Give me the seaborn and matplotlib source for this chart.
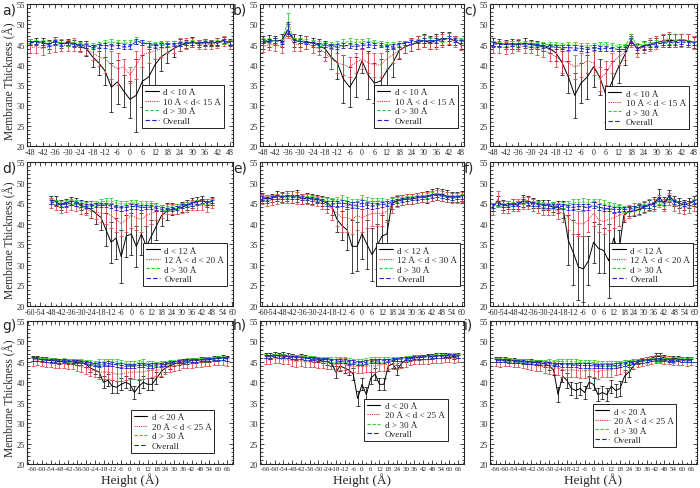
import matplotlib
matplotlib.use("Agg")
import matplotlib.pyplot as plt
import seaborn as sns
from matplotlib.ticker import MultipleLocator
from matplotlib.lines import Line2D

# ---------------- data ----------------
x_48 = list(range(-48, 49, 3))
x_60 = list(range(-60, 61, 3))
x_66 = list(range(-66, 67, 3))

err_green_33 = [0.6,0.5,0.6,0.5,0.6,0.5,0.6,0.5,0.6,0.6,0.6, 0.7,0.7,0.8,0.7,0.8,0.7,0.8,0.7,0.7,0.6,0.6, 0.6,0.5,0.6,0.5,0.6,0.5,0.6,0.5,0.6,0.6,0.5]
err_blue_33 = [0.5,0.4,0.5,0.4,0.5,0.4,0.5,0.4,0.4,0.5,0.5, 0.5,0.6,0.6,0.6,0.6,0.6,0.6,0.6,0.5,0.5,0.5, 0.5,0.4,0.5,0.4,0.5,0.4,0.5,0.4,0.5,0.5,0.4]
err_green_41 = [0.6,0.6,0.5,0.6,0.5,0.6,0.6,0.5,0.6,0.5, 0.6,0.6,0.7,0.7,0.8,0.8,0.9,0.9,0.9,0.9, 0.9,0.9,0.9,0.8,0.8,0.8,0.7,0.6,0.6,0.6, 0.5,0.6,0.5,0.6,0.6,0.5,0.6,0.5,0.6,0.5,0.6]
err_blue_41 = [0.5,0.5,0.4,0.5,0.4,0.5,0.5,0.4,0.5,0.4, 0.5,0.5,0.5,0.6,0.6,0.6,0.7,0.7,0.7,0.7, 0.7,0.7,0.7,0.6,0.6,0.6,0.5,0.5,0.5,0.5, 0.4,0.5,0.4,0.5,0.5,0.4,0.5,0.4,0.5,0.4,0.5]
err_green_45 = [0.5,0.5,0.4,0.5,0.5,0.4,0.5,0.5,0.4,0.5,0.5,0.4,0.5,0.5,0.5, 0.6,0.6,0.6,0.6,0.6,0.6,0.6,0.6,0.6,0.6,0.6,0.6,0.6,0.5,0.5, 0.5,0.5,0.4,0.5,0.5,0.4,0.5,0.5,0.4,0.5,0.5,0.4,0.5,0.5,0.5]
err_blue_45 = [0.4,0.4,0.3,0.4,0.4,0.3,0.4,0.4,0.3,0.4,0.4,0.3,0.4,0.4,0.4, 0.5,0.5,0.5,0.5,0.5,0.5,0.5,0.5,0.5,0.5,0.5,0.5,0.5,0.4,0.4, 0.4,0.4,0.3,0.4,0.4,0.3,0.4,0.4,0.3,0.4,0.4,0.3,0.4,0.4,0.4]

# panel a
a_black = [45.6,45.8,45.5,45.0,45.9,45.2,45.5,45.3,44.6,44.0,42.0, 40.5,38.5,34.5,35.8,33.5,31.5,32.5,36.0,37.0,40.0,42.0, 43.0,44.0,44.8,45.2,45.6,45.3,45.5,45.4,45.6,46.0,45.5]
a_black_err = [0.8,0.8,1.0,1.2,0.9,1.0,0.8,0.9,1.2,1.8,2.5, 3.0,3.5,6.0,5.5,4.0,4.5,9.0,6.5,7.0,5.0,3.5, 2.5,2.0,1.5,1.0,1.2,0.8,0.8,0.8,0.9,0.9,0.8]
a_red = [44.2,44.5,44.0,44.5,45.0,44.8,44.8,45.0,44.3,44.0,43.0, 42.0,41.5,40.0,39.0,39.5,37.5,40.0,42.5,43.0,43.5,44.0, 44.3,44.5,45.0,45.3,45.5,45.0,45.2,45.0,45.3,45.8,45.0]
a_red_err = [1.2,1.5,1.5,1.5,1.8,1.5,1.3,1.5,1.2,1.5,1.8, 2.2,3.5,3.5,4.0,2.0,2.0,3.5,3.0,2.5,2.0,2.0, 1.5,1.5,1.5,1.3,1.2,1.2,1.2,1.2,1.2,1.2,1.2]
a_green = [45.8,45.6,45.5,45.3,45.7,45.2,45.3,45.2,45.0,44.8,44.8, 45.0,45.5,45.6,45.5,45.3,45.5,46.0,45.5,45.3,45.0,45.0, 45.2,45.3,45.3,45.4,45.5,45.4,45.6,45.5,45.6,45.8,45.6]
a_blue = [45.5,45.5,45.3,45.1,45.6,45.1,45.3,45.1,44.8,44.6,44.5, 44.7,44.8,44.6,44.8,44.5,44.5,45.8,45.5,45.0,44.7,44.8, 45.0,45.1,45.2,45.3,45.4,45.3,45.5,45.4,45.5,45.8,45.4]

# panel b
b_black = [45.5,45.8,46.0,46.0,48.5,46.0,45.8,45.5,45.5,44.8,44.0, 42.0,40.5,36.5,34.5,37.0,41.0,37.5,35.5,36.0,38.5,40.5, 43.5,44.5,45.0,45.5,46.0,45.5,46.0,46.5,46.5,46.0,45.0]
b_black_err = [1.5,1.5,1.2,1.5,1.5,1.5,1.5,1.5,1.2,1.5,2.0, 3.0,4.0,6.0,5.0,5.0,3.0,6.0,5.0,5.5,5.0,3.5, 2.0,1.5,1.5,1.5,1.5,1.5,1.5,1.5,1.5,1.2,1.2]
b_red = [44.5,45.0,45.0,44.5,48.0,45.0,45.0,45.5,44.5,44.0,43.0, 41.5,40.5,40.0,39.5,40.5,41.5,40.5,40.0,40.0,41.5,42.5, 43.5,44.5,45.0,45.5,45.8,45.3,45.5,46.0,46.5,45.8,45.0]
b_red_err = [1.3,1.3,1.5,1.5,1.5,1.5,1.5,1.5,1.5,1.5,2.0, 2.5,2.5,2.5,2.5,2.5,2.5,2.5,3.0,3.0,2.5,2.0, 1.8,1.5,1.5,1.5,1.5,1.5,1.5,1.5,1.3,1.3,1.3]
b_green = [46.0,46.0,46.0,45.8,50.5,46.2,46.0,45.8,45.5,45.2,45.0, 45.0,45.2,45.5,45.8,45.5,45.7,45.8,45.5,45.3,45.0,45.0, 45.3,45.5,45.7,45.8,46.0,46.0,46.0,46.2,46.5,46.2,46.0]
b_green_err = [0.6,0.5,0.6,0.5,2.2,0.5,0.6,0.5,0.6,0.6,0.6, 0.7,0.7,0.8,0.7,0.8,0.7,0.8,0.7,0.7,0.6,0.6, 0.6,0.5,0.6,0.5,0.6,0.5,0.6,0.5,0.6,0.6,0.5]
b_blue = [45.8,46.0,46.0,45.5,49.0,46.0,45.8,45.6,45.3,45.0,44.8, 44.6,44.6,44.8,44.7,44.5,44.8,45.0,44.8,44.8,44.5,44.6, 45.0,45.3,45.6,45.8,46.0,45.8,46.0,46.2,46.5,46.2,45.8]
b_blue_err = [0.5,0.4,0.5,0.4,1.5,0.4,0.5,0.4,0.4,0.5,0.5, 0.5,0.6,0.6,0.6,0.6,0.6,0.6,0.6,0.5,0.5,0.5, 0.5,0.4,0.5,0.4,0.5,0.4,0.5,0.4,0.5,0.5,0.4]

# panel c
c_black = [45.5,45.3,45.0,45.2,45.0,45.3,45.0,44.8,44.5,44.0,43.0, 40.5,37.0,32.5,35.5,37.0,39.5,37.0,32.5,36.0,39.5,42.5, 46.0,44.0,44.8,45.0,45.5,45.8,46.0,46.0,46.2,46.0,45.5]
c_black_err = [1.0,1.0,1.2,1.2,1.2,1.2,1.2,1.0,1.0,1.2,2.0, 3.0,4.0,5.5,5.0,5.5,5.0,4.5,6.5,5.0,4.0,2.5, 1.0,1.2,1.2,1.2,1.2,1.5,1.5,1.5,1.5,1.5,1.3]
c_red = [44.5,44.5,44.2,44.5,44.8,44.5,44.3,44.0,43.5,43.0,42.0, 41.0,40.5,39.5,40.0,41.0,40.5,36.5,38.0,40.5,42.0,43.0, 46.0,43.5,44.5,45.0,45.5,46.0,46.5,46.0,46.0,46.0,45.5]
c_red_err = [1.5,1.5,1.5,1.5,1.5,1.5,1.5,1.5,1.5,2.0,2.5, 3.0,3.0,3.0,3.0,3.0,3.0,3.0,3.0,2.5,2.0,1.8, 1.5,1.5,1.5,1.5,1.5,1.5,1.5,1.5,1.5,1.5,1.5]
c_green = [45.3,45.2,45.2,45.3,45.3,45.5,45.3,45.2,45.0,45.0,45.0, 44.8,45.0,44.8,44.8,44.6,44.8,44.8,45.0,44.8,44.5,44.5, 47.0,44.8,45.0,45.2,45.5,45.5,45.8,45.6,45.7,45.6,45.5]
c_blue = [45.2,45.0,45.0,45.1,45.0,45.1,45.0,44.8,44.6,44.5,44.4, 44.3,44.2,44.2,44.0,43.8,44.2,44.0,44.0,44.0,43.8,43.8, 46.0,44.0,44.5,44.8,45.2,45.3,45.5,45.4,45.6,45.5,45.3]

# panel d
d_black = [45.8,45.5,44.5,45.0,45.5,45.3,44.5,44.0,43.5,42.5,41.5, 38.5,35.5,36.5,32.0,37.0,37.5,34.5,37.5,34.5,37.0,39.5, 42.0,43.0,43.5,43.5,44.0,44.5,45.0,45.5,45.8,45.0,45.5]
d_black_err = [1.0,1.2,1.2,1.0,1.0,1.0,1.2,1.5,2.0,2.5,3.0, 4.0,5.0,5.0,6.5,5.0,5.0,5.0,5.0,5.0,4.0,3.5, 2.5,2.0,1.5,1.2,1.2,1.2,1.2,1.0,1.0,1.0,1.0]
d_red = [45.0,44.5,43.8,44.0,44.5,44.3,43.5,43.5,43.0,43.0,42.5, 42.5,42.0,41.0,40.0,41.0,42.0,41.5,41.0,42.0,42.5,43.0, 43.0,43.5,43.5,43.5,43.8,44.0,44.5,44.5,44.5,44.0,45.0]
d_red_err = [1.2,1.2,1.2,1.2,1.2,1.2,1.2,1.3,1.5,1.8,2.0, 2.5,3.0,3.0,3.0,3.0,3.0,3.0,3.0,2.5,2.5,2.0, 1.5,1.2,1.2,1.2,1.2,1.2,1.2,1.2,1.2,1.2,1.2]
d_green = [45.5,45.3,45.0,45.3,45.5,45.3,45.0,44.8,44.8,45.0,45.3, 45.5,45.5,45.0,44.8,44.8,45.0,45.0,44.8,44.8,44.8,44.5, 44.0,43.8,44.0,44.2,44.5,44.8,45.0,45.3,45.5,45.3,45.5]
d_blue = [45.3,45.0,44.6,44.8,45.0,44.8,44.5,44.3,44.3,44.5,44.5, 44.5,44.3,44.0,43.8,44.0,44.2,44.2,44.0,44.0,44.0,43.8, 43.5,43.5,43.6,43.8,44.2,44.5,44.8,45.2,45.5,45.0,45.4]

# panel e
e_black = [46.5,46.0,46.3,46.8,46.5,46.8,46.5,46.8,46.0,46.3, 46.0,46.0,45.5,45.0,44.0,41.0,39.5,38.5,34.5,34.5, 37.5,35.0,32.5,34.5,37.0,37.5,45.0,45.5,45.8,46.0, 46.0,46.3,46.5,46.5,47.0,47.3,47.0,46.8,46.5,46.5,46.8]
e_black_err = [1.0,1.0,1.0,1.2,1.2,1.2,1.5,1.5,1.2,1.2, 1.2,1.0,1.2,1.5,2.0,3.0,3.5,5.0,6.5,6.0, 6.0,6.0,6.5,5.5,5.0,3.5,1.5,1.2,1.2,1.2, 1.2,1.2,1.2,1.5,1.5,1.5,1.5,1.5,1.2,1.2,1.2]
e_red = [46.0,45.5,45.8,46.0,46.3,46.5,46.5,46.3,46.0,46.0, 45.8,45.5,45.0,44.5,43.5,42.5,41.5,41.5,41.0,42.0, 41.5,42.0,42.5,42.5,42.5,43.0,44.5,45.5,45.8,46.0, 46.0,46.3,46.5,46.5,46.8,47.0,46.8,46.5,46.3,46.3,46.5]
e_red_err = [1.2,1.2,1.2,1.2,1.2,1.5,1.5,1.5,1.2,1.2, 1.2,1.2,1.5,2.0,2.5,3.0,3.5,3.5,3.5,3.5, 3.5,3.0,3.0,3.0,3.0,2.5,2.0,1.5,1.2,1.2, 1.2,1.2,1.2,1.2,1.2,1.2,1.2,1.2,1.2,1.2,1.2]
e_green = [46.3,46.3,46.5,46.5,46.5,46.8,46.5,46.6,46.3,46.3, 46.2,46.0,45.8,45.5,45.5,45.8,46.0,45.5,45.0,45.2, 46.0,45.5,45.3,45.5,45.5,45.3,45.5,45.8,46.0,46.2, 46.3,46.5,46.5,46.8,47.0,47.0,46.8,46.5,46.3,46.5,46.6]
e_blue = [46.2,46.0,46.3,46.5,46.4,46.6,46.4,46.5,46.2,46.2, 46.0,45.8,45.5,45.0,44.8,45.0,45.0,44.8,44.5,44.5, 45.0,44.5,44.3,44.5,44.7,44.8,45.2,45.5,45.8,46.0, 46.1,46.3,46.4,46.6,46.8,46.9,46.7,46.4,46.2,46.4,46.5]

# panel f
f_black = [44.0,45.5,44.5,44.5,44.8,44.5,45.5,45.5,45.0,44.8, 44.5,44.5,44.0,44.0,43.5,36.0,33.0,29.5,29.0,31.0, 35.5,34.0,33.5,31.0,36.5,33.0,42.0,43.0,43.0,43.5, 44.0,44.5,45.0,46.5,45.0,46.8,45.5,45.0,44.5,45.0,45.5]
f_black_err = [1.0,1.2,1.2,1.0,1.2,1.0,1.5,1.2,1.2,1.0, 1.2,1.2,1.2,1.5,2.0,6.0,8.0,8.0,8.0,6.0, 5.0,6.0,5.5,9.0,6.0,5.5,1.5,1.2,1.2,1.2, 1.2,1.2,1.5,2.0,1.5,1.5,1.2,1.2,1.2,1.2,1.2]
f_red = [43.5,46.0,44.0,44.0,44.5,44.5,45.0,45.0,44.5,44.0, 43.5,43.5,43.5,43.0,42.5,41.5,40.5,40.0,40.0,41.0, 42.5,41.0,40.5,41.0,41.5,42.0,42.5,43.0,43.5,43.5, 44.0,44.5,44.5,45.5,44.5,46.0,44.5,44.0,43.8,44.0,44.5]
f_red_err = [1.5,2.0,1.5,1.5,1.5,1.5,1.5,1.5,1.5,1.5, 1.5,1.5,1.5,1.8,2.0,3.0,3.0,3.0,3.0,3.0, 3.0,3.0,3.0,2.5,2.5,2.5,1.5,1.5,1.5,1.5, 1.5,1.5,1.5,1.5,1.5,1.5,1.5,1.5,1.5,1.5,1.5]
f_green = [44.5,45.0,44.5,44.8,44.8,45.0,45.5,45.0,45.0,44.8, 44.6,44.5,44.5,44.3,44.5,44.8,45.0,45.2,45.3,45.0, 45.2,45.0,44.8,44.5,44.3,44.0,43.5,43.5,43.8,44.0, 44.3,44.5,44.8,45.5,45.0,46.0,45.2,45.0,44.8,45.0,45.3]
f_blue = [44.3,45.0,44.5,44.6,44.7,44.8,45.5,45.0,44.8,44.6, 44.4,44.3,44.3,44.2,44.2,44.0,44.0,44.2,44.0,44.0, 44.5,44.0,43.8,43.6,43.5,43.5,43.5,43.5,43.8,44.0, 44.2,44.4,44.8,46.0,45.0,46.5,45.2,45.0,44.7,45.0,45.3]

# panel g
g_black = [45.8,45.8,45.5,45.5,45.3,45.3,45.0,45.2,45.0,45.0,44.8,44.8,44.5,43.5,43.0, 42.5,40.0,40.5,39.0,38.8,39.5,40.0,39.5,37.5,39.0,40.0,39.5,39.5,41.0,42.5, 43.5,44.0,44.5,44.8,45.0,45.0,45.3,45.3,45.5,45.5,45.5,45.8,45.8,46.0,45.8]
g_black_err = [0.6,0.6,0.6,0.6,0.6,0.6,0.6,0.6,0.6,0.6,0.6,0.6,0.8,1.0,1.0, 1.2,1.5,1.5,1.5,1.5,1.5,1.5,1.5,1.5,1.5,1.5,1.5,1.5,1.5,1.2, 1.0,0.8,0.6,0.6,0.6,0.6,0.6,0.6,0.6,0.6,0.6,0.6,0.6,0.6,0.6]
g_red = [45.0,45.3,45.0,44.8,44.8,44.5,44.5,44.5,44.3,44.3,44.0,43.8,43.5,43.0,42.8, 42.5,42.5,42.5,42.3,42.0,42.0,42.3,42.5,42.5,42.5,42.5,42.8,43.0,43.0,43.0, 43.5,43.8,44.0,44.3,44.5,44.5,44.5,44.8,44.8,45.0,45.0,45.2,45.2,45.3,45.0]
g_red_err = [1.0,1.0,1.0,1.0,1.0,1.0,1.0,1.0,1.0,1.0,1.2,1.2,1.5,1.5,1.5, 1.8,1.8,1.8,1.8,1.8,1.8,1.8,1.8,1.8,1.8,1.8,1.8,1.8,1.5,1.5, 1.5,1.2,1.2,1.2,1.0,1.0,1.0,1.0,1.0,1.0,1.0,1.0,1.0,1.0,1.0]
g_green = [45.8,45.8,45.6,45.5,45.5,45.5,45.3,45.5,45.3,45.3,45.2,45.3,45.0,45.0,44.8, 45.0,45.0,45.2,45.0,45.0,44.8,44.5,44.5,44.5,44.8,45.0,44.5,44.5,44.5,44.8, 44.8,45.0,45.0,45.2,45.3,45.5,45.5,45.5,45.6,45.6,45.8,45.8,46.0,46.0,45.8]
g_blue = [45.7,45.7,45.5,45.4,45.4,45.3,45.2,45.3,45.1,45.1,45.0,45.0,44.8,44.6,44.4, 44.5,44.5,44.6,44.4,44.3,44.1,44.0,44.0,44.0,44.2,44.3,44.0,44.1,44.2,44.4, 44.5,44.7,44.9,45.1,45.2,45.3,45.4,45.4,45.5,45.5,45.6,45.7,45.9,45.9,45.7]

# panel h
h_black = [46.5,46.5,46.8,46.5,46.8,46.5,46.3,46.0,46.3,46.0,45.8,45.5,45.5,45.2,45.0, 44.8,42.5,44.0,43.5,43.0,42.0,36.0,39.5,37.0,41.0,42.0,39.5,39.5,44.0,44.5, 43.0,44.5,45.5,45.8,46.0,46.0,46.2,46.3,46.3,46.5,46.5,46.5,46.5,46.3,46.5]
h_black_err = [0.6,0.6,0.6,0.6,0.6,0.6,0.6,0.6,0.6,0.6,0.6,0.6,0.6,0.6,0.8, 0.8,1.5,1.2,1.2,1.2,1.5,1.8,1.5,1.8,1.5,1.5,1.5,1.5,1.2,1.0, 1.2,0.8,0.6,0.6,0.6,0.6,0.6,0.6,0.6,0.6,0.6,0.6,0.6,0.6,0.6]
h_red = [45.5,45.5,45.8,45.8,45.5,45.5,45.3,45.0,45.3,45.0,45.0,45.0,44.8,44.8,44.5, 44.5,44.3,44.5,44.5,44.0,44.0,43.8,43.8,44.0,44.0,44.0,44.3,44.3,44.5,44.5, 44.5,44.8,45.0,45.3,45.5,45.5,45.5,45.5,45.8,45.8,45.8,46.0,46.0,45.8,46.0]
h_red_err = [1.0,1.0,1.0,1.0,1.0,1.0,1.2,1.2,1.2,1.2,1.2,1.2,1.2,1.2,1.2, 1.2,1.5,1.5,1.5,1.5,1.5,1.5,1.5,1.5,1.5,1.5,1.5,1.5,1.2,1.2, 1.2,1.2,1.2,1.0,1.0,1.0,1.0,1.0,1.0,1.0,1.0,1.0,1.0,1.0,1.0]
h_green = [46.5,46.3,46.5,46.5,46.5,46.3,46.2,46.2,46.2,46.0,46.0,46.0,45.8,45.8,45.8, 45.6,45.6,45.5,45.5,45.3,45.2,45.0,45.0,45.3,45.5,45.5,45.6,45.6,45.6,45.7, 45.8,45.8,46.0,46.0,46.2,46.2,46.3,46.3,46.3,46.5,46.5,46.5,46.6,46.6,46.5]
h_blue = [46.3,46.2,46.4,46.4,46.4,46.2,46.1,46.0,46.0,45.9,45.8,45.8,45.6,45.6,45.5, 45.3,45.2,45.2,45.2,45.0,44.9,44.7,44.8,44.9,45.1,45.2,45.2,45.3,45.4,45.5, 45.6,45.7,45.8,45.9,46.0,46.1,46.2,46.2,46.2,46.3,46.4,46.4,46.5,46.5,46.4]

# panel i
i_black = [45.5,45.5,45.5,45.3,45.3,45.2,45.0,45.0,45.0,44.8,44.8,44.5,44.0,43.0,37.0, 41.5,40.5,38.5,38.0,38.5,37.5,40.0,39.5,37.0,37.5,37.0,39.0,38.0,38.5,41.5, 42.5,44.0,45.0,45.3,45.5,45.8,46.3,46.3,46.0,45.8,45.8,45.8,45.5,45.5,45.5]
i_black_err = [0.6,0.6,0.6,0.6,0.6,0.6,0.6,0.6,0.6,0.6,0.6,0.8,1.0,1.2,1.8, 1.5,1.8,1.5,1.8,1.5,1.5,1.5,1.5,1.5,1.5,1.5,1.5,1.5,1.8,1.5, 1.2,0.8,0.6,0.6,0.6,0.6,0.8,0.8,0.6,0.6,0.6,0.6,0.6,0.6,0.6]
i_red = [45.0,44.8,45.0,45.0,44.8,44.8,44.5,44.5,44.3,44.0,44.0,43.8,43.5,43.5,43.5, 43.0,43.0,43.0,43.0,42.8,42.8,43.0,43.0,42.5,43.0,43.0,43.0,43.5,43.5,44.0, 44.0,44.5,44.8,45.0,45.3,45.5,45.8,45.8,45.5,45.5,45.3,45.3,45.3,45.0,45.3]
i_red_err = [1.0,1.0,1.0,1.0,1.0,1.0,1.0,1.2,1.2,1.2,1.2,1.5,1.5,1.5,1.8, 1.8,1.8,1.8,1.8,1.8,1.8,1.8,1.8,1.8,1.8,1.8,1.8,1.8,1.5,1.5, 1.2,1.2,1.0,1.0,1.0,1.0,1.0,1.0,1.0,1.0,1.0,1.0,1.0,1.0,1.0]
i_green = [45.5,45.5,45.5,45.5,45.3,45.3,45.2,45.2,45.0,45.0,45.0,45.0,45.2,45.0,45.2, 45.0,45.2,45.0,45.0,44.8,44.8,44.8,44.8,44.6,44.6,44.5,44.5,44.5,44.8,45.0, 45.0,45.0,45.2,45.3,45.3,45.5,45.5,45.5,45.5,45.5,45.3,45.5,45.5,45.5,45.5]
i_blue = [45.3,45.3,45.3,45.2,45.1,45.1,45.0,44.9,44.8,44.8,44.7,44.6,44.6,44.4,44.4, 44.3,44.3,44.2,44.2,44.1,44.1,44.1,44.0,43.9,44.0,44.0,44.0,44.1,44.2,44.5, 44.7,44.9,45.1,45.2,45.3,45.4,45.6,45.6,45.5,45.4,45.3,45.4,45.4,45.4,45.4]

labels_abc = ["d < 10 Å", "10 Å < d < 15 Å", "d > 30 Å", "Overall"]
labels_a = ["d < 10 Å", "10 Å < d< 15 Å", "d > 30 Å", "Overall"]
labels_df = ["d < 12 Å", "12 Å < d < 20 Å", "d > 30 Å", "Overall"]
labels_e = ["d < 12 Å", "12 Å < d < 30 Å", "d > 30 Å", "Overall"]
labels_ghi = ["d < 20 Å", "20 Å < d < 25 Å", "d > 30 Å", "Overall"]

xticks_48 = list(range(-48, 49, 6))
xticks_60 = list(range(-60, 61, 6))
xticks_66 = list(range(-66, 67, 6))

# ---------------- plotting ----------------
sns.set_style("ticks")
plt.rcParams['font.family'] = ['Liberation Serif', 'DejaVu Serif']
plt.rcParams['axes.unicode_minus'] = False

W, H = 700, 489
fig = plt.figure(figsize=(W / 100, H / 100), dpi=100)

cols = [(27, 233), (260, 464), (490, 697)]
rows = [(5, 147), (163, 307), (322, 465)]

colors = ['#000000', '#d42a2a', '#33cc33', '#2020cc']
ecolors = ['#222222', '#dd4a4a', '#33cc33', '#2020cc']
styles = ['-', (0, (1, 1)), (0, (3, 1.5)), (0, (4, 2))]

panels = [
    ('a)', x_48, [a_black, a_red, a_green, a_blue], [a_black_err, a_red_err, err_green_33, err_blue_33], labels_a, (-49.5, 49.5), xticks_48, (0.955, 0.13)),
    ('b)', x_48, [b_black, b_red, b_green, b_blue], [b_black_err, b_red_err, b_green_err, b_blue_err], labels_abc, (-49.5, 49.5), xticks_48, (0.97, 0.13)),
    ('c)', x_48, [c_black, c_red, c_green, c_blue], [c_black_err, c_red_err, err_green_33, err_blue_33], labels_abc, (-49.5, 49.5), xticks_48, (0.96, 0.12)),
    ('d)', x_48, [d_black, d_red, d_green, d_blue], [d_black_err, d_red_err, err_green_33, err_blue_33], labels_df, (-62, 60.5), xticks_60, (0.97, 0.14)),
    ('e)', x_60, [e_black, e_red, e_green, e_blue], [e_black_err, e_red_err, err_green_41, err_blue_41], labels_e, (-61.5, 61.5), xticks_60, (0.98, 0.14)),
    ('f)', x_60, [f_black, f_red, f_green, f_blue], [f_black_err, f_red_err, err_green_41, err_blue_41], labels_df, (-61.5, 61.5), xticks_60, (0.98, 0.14)),
    ('g)', x_66, [g_black, g_red, g_green, g_blue], [g_black_err, g_red_err, err_green_45, err_blue_45], labels_ghi, (-70, 70), xticks_66, (0.91, 0.08)),
    ('h)', x_66, [h_black, h_red, h_green, h_blue], [h_black_err, h_red_err, err_green_45, err_blue_45], labels_ghi, (-70, 70), xticks_66, (0.92, 0.16)),
    ('i)', x_66, [i_black, i_red, i_green, i_blue], [i_black_err, i_red_err, err_green_45, err_blue_45], labels_ghi, (-70, 70), xticks_66, (0.90, 0.12)),
]

label_pos = [(2, 3), (233, 3), (464, 3), (2, 161), (233, 161), (464, 161), (2, 319), (233, 319), (464, 319)]

for k, (tag, xs, ys, es, labs, xlim, xt, lpos) in enumerate(panels):
    r, c = divmod(k, 3)
    l, rr = cols[c]
    t, b = rows[r]
    ax = fig.add_axes([l / W, 1 - b / H, (rr - l) / W, (b - t) / H])
    for j in range(4):
        ax.errorbar(xs, ys[j], yerr=es[j], fmt='none', ecolor=ecolors[j],
                    elinewidth=0.6, capsize=1.5, capthick=0.6, zorder=2 + j)
        sns.lineplot(x=xs, y=ys[j], ax=ax, color=colors[j], linewidth=0.7,
                     linestyle=styles[j], errorbar=None, legend=False, zorder=2 + j)
    ax.set_xlim(*xlim)
    ax.set_ylim(20, 55)
    ax.set_xticks(xt)
    ax.xaxis.set_minor_locator(MultipleLocator(3))
    ax.yaxis.set_major_locator(MultipleLocator(5))
    ax.yaxis.set_minor_locator(MultipleLocator(1))
    fs = 5.0 if r == 2 else 5.8
    ax.tick_params(which='both', direction='in', top=True, right=True, width=0.6, pad=1.5)
    ax.tick_params(axis='x', labelsize=fs)
    ax.tick_params(axis='y', labelsize=6)
    ax.tick_params(which='major', length=3)
    ax.tick_params(which='minor', length=1.8)
    for s in ax.spines.values():
        s.set_linewidth(0.8)
    ax.set_ylabel('')
    if r == 2:
        ax.set_xlabel('Height (Å)', fontsize=9.5, labelpad=1)
    else:
        ax.set_xlabel('')
    handles = [Line2D([0], [0], color=colors[j], lw=0.8, linestyle=styles[j]) for j in range(4)]
    leg = ax.legend(handles, labs, loc='lower right', bbox_to_anchor=lpos, fontsize=6.6,
                    frameon=True, fancybox=False, framealpha=1, edgecolor='black',
                    borderpad=0.3, labelspacing=0.12, handlelength=1.5, handletextpad=0.5,
                    borderaxespad=0)
    leg.get_frame().set_linewidth(0.6)
    lx, ly = label_pos[k]
    fig.text(lx / W, 1 - ly / H, tag, fontsize=10, family='DejaVu Sans', va='top', ha='left')
    if c == 0:
        fig.text(10 / W, 1 - ((t + b) / 2 + 5) / H, 'Membrane Thickness (Å)', rotation=90,
                 fontsize=8.3, va='center', ha='center')

fig.savefig('out.png', dpi=100)
